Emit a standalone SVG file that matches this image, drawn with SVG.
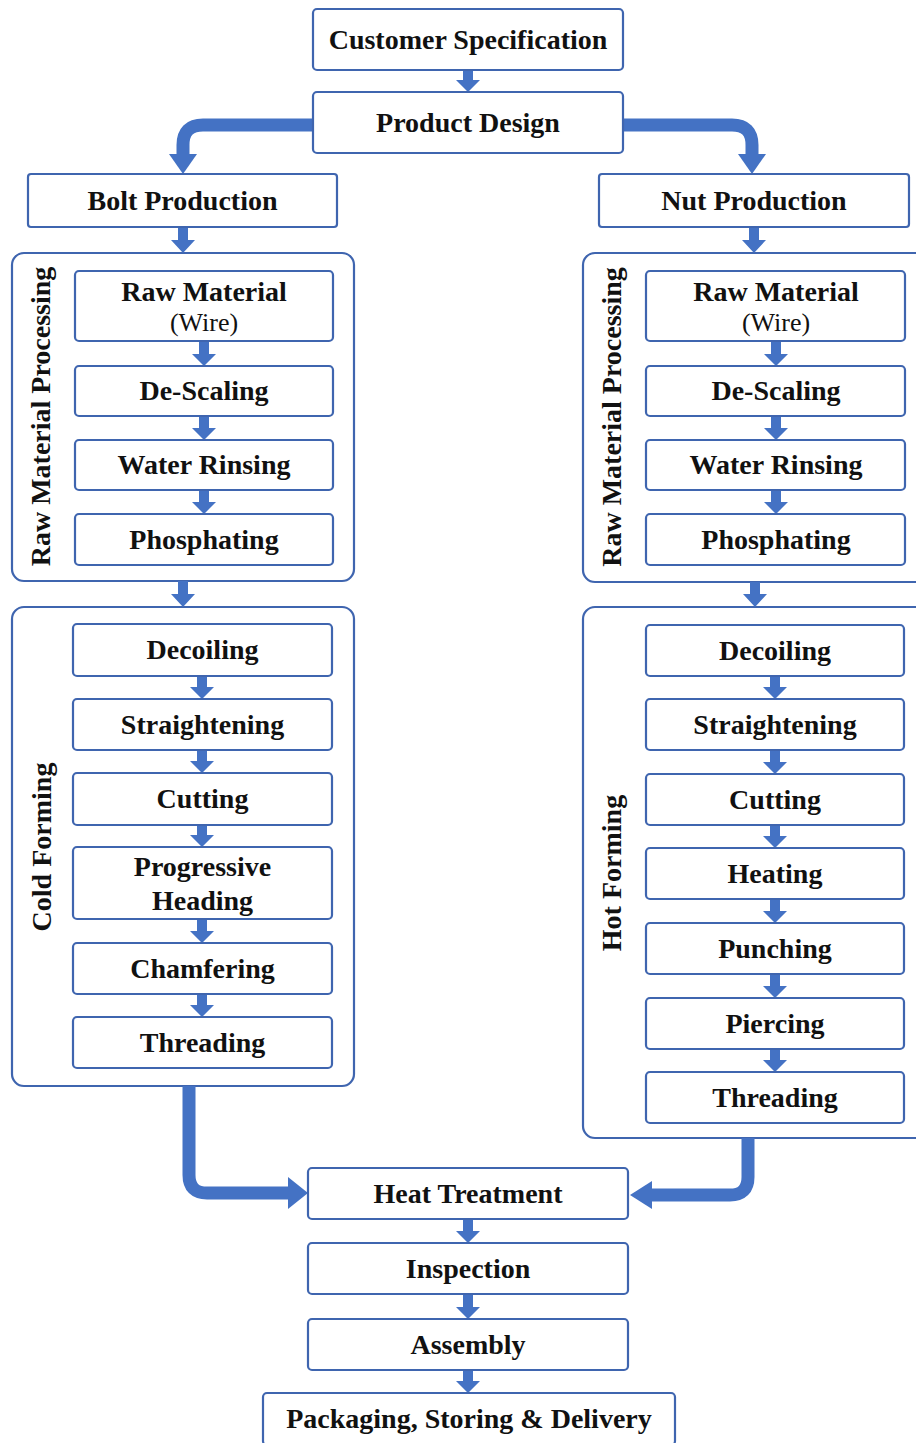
<svg xmlns="http://www.w3.org/2000/svg" width="916" height="1443" viewBox="0 0 916 1443">
<style>
.box{fill:#fff;stroke:#3F65AF;stroke-width:2.2}
.grp{fill:#fff;stroke:#3F65AF;stroke-width:2.2}
.t{font-family:"Liberation Serif","Times New Roman",serif;font-weight:bold;font-size:28px;text-anchor:middle;fill:#111}
.w{font-weight:normal;font-size:26px}
.arr{fill:#4472C4}
.thick{fill:none;stroke:#4472C4;stroke-width:13}
</style>
<rect width="916" height="1443" fill="#fff"/>

<g id="groups">
<g id="rmp-bolt"><rect class="grp" x="12" y="253" width="342" height="328" rx="12"/><text class="t" transform="translate(50,416.5) rotate(-90)">Raw Material Processing</text></g>
<g id="rmp-nut"><rect class="grp" x="583" y="253" width="345" height="329" rx="12"/><text class="t" transform="translate(621,417) rotate(-90)">Raw Material Processing</text></g>
<g id="cold-forming"><rect class="grp" x="12" y="607" width="342" height="479" rx="12"/><text class="t" transform="translate(51,847) rotate(-90)">Cold Forming</text></g>
<g id="hot-forming"><rect class="grp" x="583" y="607" width="345" height="531" rx="12"/><text class="t" transform="translate(621,873) rotate(-90)">Hot Forming</text></g>
</g>

<g id="connectors">
<polygon class="arr" points="463,70 473,70 473,80 480,80 468,92 456,80 463,80"/>
<path class="thick" d="M313,125 H203 Q183,125 183,145 V155"/>
<polygon class="arr" points="169,154 197,154 183,174"/>
<path class="thick" d="M623,125 H732 Q752,125 752,145 V155"/>
<polygon class="arr" points="738,154 766,154 752,174"/>
<polygon class="arr" points="178,227 188,227 188,240 195,240 183,253 171,240 178,240"/>
<polygon class="arr" points="749,227 759,227 759,240 766,240 754,253 742,240 749,240"/>
<polygon class="arr" points="199,341 209,341 209,354 216,354 204,366 192,354 199,354"/>
<polygon class="arr" points="199,416 209,416 209,428 216,428 204,440 192,428 199,428"/>
<polygon class="arr" points="199,490 209,490 209,502 216,502 204,514 192,502 199,502"/>
<polygon class="arr" points="771,341 781,341 781,354 788,354 776,366 764,354 771,354"/>
<polygon class="arr" points="771,416 781,416 781,428 788,428 776,440 764,428 771,428"/>
<polygon class="arr" points="771,490 781,490 781,502 788,502 776,514 764,502 771,502"/>
<polygon class="arr" points="178,581 188,581 188,594 195,594 183,607 171,594 178,594"/>
<polygon class="arr" points="750,582 760,582 760,594 767,594 755,607 743,594 750,594"/>
<polygon class="arr" points="197,676 207,676 207,687 214,687 202,699 190,687 197,687"/>
<polygon class="arr" points="197,750 207,750 207,761 214,761 202,773 190,761 197,761"/>
<polygon class="arr" points="197,825 207,825 207,835 214,835 202,847 190,835 197,835"/>
<polygon class="arr" points="197,919 207,919 207,931 214,931 202,943 190,931 197,931"/>
<polygon class="arr" points="197,994 207,994 207,1005 214,1005 202,1017 190,1005 197,1005"/>
<polygon class="arr" points="770,676 780,676 780,687 787,687 775,699 763,687 770,687"/>
<polygon class="arr" points="770,750 780,750 780,762 787,762 775,774 763,762 770,762"/>
<polygon class="arr" points="770,825 780,825 780,836 787,836 775,848 763,836 770,836"/>
<polygon class="arr" points="770,899 780,899 780,911 787,911 775,923 763,911 770,911"/>
<polygon class="arr" points="770,974 780,974 780,986 787,986 775,998 763,986 770,986"/>
<polygon class="arr" points="770,1049 780,1049 780,1060 787,1060 775,1072 763,1060 770,1060"/>
<path class="thick" d="M189,1086 V1175 Q189,1193 207,1193 H290"/>
<polygon class="arr" points="288,1177 288,1209 308,1193"/>
<path class="thick" d="M748,1138 V1177 Q748,1195 730,1195 H650"/>
<polygon class="arr" points="652,1181 652,1209 630,1195"/>
<polygon class="arr" points="463,1219 473,1219 473,1231 480,1231 468,1243 456,1231 463,1231"/>
<polygon class="arr" points="463,1294 473,1294 473,1307 480,1307 468,1319 456,1307 463,1307"/>
<polygon class="arr" points="463,1370 473,1370 473,1381 480,1381 468,1393 456,1381 463,1381"/>
</g>

<g id="customer-spec"><rect class="box" x="313" y="9" width="310" height="61" rx="4"/><text class="t" x="468" y="49">Customer Specification</text></g>
<g id="product-design"><rect class="box" x="313" y="92" width="310" height="61" rx="4"/><text class="t" x="468" y="132">Product Design</text></g>
<g id="bolt-production"><rect class="box" x="28" y="174" width="309" height="53" rx="3"/><text class="t" x="182.5" y="210">Bolt Production</text></g>
<g id="nut-production"><rect class="box" x="599" y="174" width="310" height="53" rx="3"/><text class="t" x="754" y="210">Nut Production</text></g>

<g id="b-raw"><rect class="box" x="75" y="271" width="258" height="70" rx="4"/><text class="t" x="204" y="301">Raw Material</text><text class="t w" x="204" y="331">(Wire)</text></g>
<g id="b-descaling"><rect class="box" x="75" y="366" width="258" height="50" rx="4"/><text class="t" x="204" y="400">De-Scaling</text></g>
<g id="b-rinsing"><rect class="box" x="75" y="440" width="258" height="50" rx="4"/><text class="t" x="204" y="474">Water Rinsing</text></g>
<g id="b-phosphating"><rect class="box" x="75" y="514" width="258" height="51" rx="4"/><text class="t" x="204" y="549">Phosphating</text></g>

<g id="n-raw"><rect class="box" x="646" y="271" width="259" height="70" rx="4"/><text class="t" x="776" y="301">Raw Material</text><text class="t w" x="776" y="331">(Wire)</text></g>
<g id="n-descaling"><rect class="box" x="646" y="366" width="259" height="50" rx="4"/><text class="t" x="776" y="400">De-Scaling</text></g>
<g id="n-rinsing"><rect class="box" x="646" y="440" width="259" height="50" rx="4"/><text class="t" x="776" y="474">Water Rinsing</text></g>
<g id="n-phosphating"><rect class="box" x="646" y="514" width="259" height="51" rx="4"/><text class="t" x="776" y="549">Phosphating</text></g>

<g id="b-decoiling"><rect class="box" x="73" y="624" width="259" height="52" rx="4"/><text class="t" x="202.5" y="659">Decoiling</text></g>
<g id="b-straightening"><rect class="box" x="73" y="699" width="259" height="51" rx="4"/><text class="t" x="202.5" y="734">Straightening</text></g>
<g id="b-cutting"><rect class="box" x="73" y="773" width="259" height="52" rx="4"/><text class="t" x="202.5" y="808">Cutting</text></g>
<g id="b-heading"><rect class="box" x="73" y="847" width="259" height="72" rx="4"/><text class="t" x="202.5" y="876">Progressive</text><text class="t" x="202.5" y="910">Heading</text></g>
<g id="b-chamfering"><rect class="box" x="73" y="943" width="259" height="51" rx="4"/><text class="t" x="202.5" y="978">Chamfering</text></g>
<g id="b-threading"><rect class="box" x="73" y="1017" width="259" height="51" rx="4"/><text class="t" x="202.5" y="1052">Threading</text></g>

<g id="n-decoiling"><rect class="box" x="646" y="625" width="258" height="51" rx="4"/><text class="t" x="775" y="660">Decoiling</text></g>
<g id="n-straightening"><rect class="box" x="646" y="699" width="258" height="51" rx="4"/><text class="t" x="775" y="734">Straightening</text></g>
<g id="n-cutting"><rect class="box" x="646" y="774" width="258" height="51" rx="4"/><text class="t" x="775" y="809">Cutting</text></g>
<g id="n-heating"><rect class="box" x="646" y="848" width="258" height="51" rx="4"/><text class="t" x="775" y="883">Heating</text></g>
<g id="n-punching"><rect class="box" x="646" y="923" width="258" height="51" rx="4"/><text class="t" x="775" y="958">Punching</text></g>
<g id="n-piercing"><rect class="box" x="646" y="998" width="258" height="51" rx="4"/><text class="t" x="775" y="1033">Piercing</text></g>
<g id="n-threading"><rect class="box" x="646" y="1072" width="258" height="51" rx="4"/><text class="t" x="775" y="1107">Threading</text></g>

<g id="heat-treatment"><rect class="box" x="308" y="1168" width="320" height="51" rx="4"/><text class="t" x="468" y="1203">Heat Treatment</text></g>
<g id="inspection"><rect class="box" x="308" y="1243" width="320" height="51" rx="4"/><text class="t" x="468" y="1278">Inspection</text></g>
<g id="assembly"><rect class="box" x="308" y="1319" width="320" height="51" rx="4"/><text class="t" x="468" y="1354">Assembly</text></g>
<g id="packaging"><rect class="box" x="263" y="1393" width="412" height="52" rx="4"/><text class="t" x="469" y="1428">Packaging, Storing &amp; Delivery</text></g>
</svg>
